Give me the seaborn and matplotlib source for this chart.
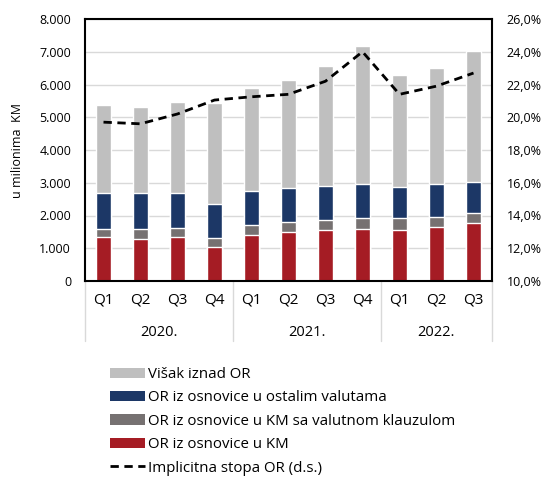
import numpy as np
import pandas as pd
import matplotlib
matplotlib.use("Agg")
import matplotlib.pyplot as plt
import seaborn as sns
from matplotlib.patches import Patch
from matplotlib.lines import Line2D
from matplotlib.ticker import FuncFormatter

quarters = ["Q1", "Q2", "Q3", "Q4", "Q1", "Q2", "Q3", "Q4", "Q1", "Q2", "Q3"]
years = ["2020.", "2021.", "2022."]
year_counts = [4, 4, 3]

# u milionima KM
or_km = [1335, 1290, 1330, 1050, 1400, 1490, 1570, 1600, 1570, 1640, 1760]
or_km_klauzula = [265, 310, 300, 270, 310, 300, 300, 310, 340, 310, 320]
or_ostale = [1080, 1080, 1050, 1030, 1040, 1040, 1040, 1050, 960, 1010, 950]
visak = [2700, 2620, 2790, 3080, 3150, 3310, 3660, 4220, 3420, 3530, 3980]

# implicitna stopa OR, %
stopa = [19.7, 19.6, 20.2, 21.05, 21.25, 21.4, 22.2, 24.0, 21.4, 21.9, 22.7]

labels = ["Višak iznad OR", "OR iz osnovice u ostalim valutama",
          "OR iz osnovice u KM sa valutnom klauzulom", "OR iz osnovice u KM"]
colors = ["#BFBFBF", "#1C3766", "#767171", "#A51C24"]

sns.set_style("white")
plt.rcParams['font.family'] = ['Open Sans', 'DejaVu Sans']
plt.rcParams['text.color'] = 'black'
plt.rcParams['ytick.color'] = 'black'
plt.rcParams['axes.labelcolor'] = 'black'

ids = [f"{i:02d}" for i in range(len(quarters))]
df = pd.DataFrame({"id": ids, "red": or_km, "gray": or_km_klauzula,
                   "blue": or_ostale, "excess": visak})
df["c1"] = df["red"]
df["c2"] = df["c1"] + df["gray"]
df["c3"] = df["c2"] + df["blue"]
df["c4"] = df["c3"] + df["excess"]

fig = plt.figure(figsize=(5.45, 4.79), dpi=100)
ax = fig.add_axes([85 / 545, 1 - 281 / 479, 407 / 545, 262 / 479])

for col, c in zip(["c4", "c3", "c2", "c1"], colors):
    sns.barplot(data=df, x="id", y=col, order=ids, color=c, width=0.43,
                saturation=1, ax=ax, zorder=2)

ax.set_ylim(0, 8000)
ax.set_yticks(np.arange(0, 8001, 1000))
ax.yaxis.set_major_formatter(FuncFormatter(lambda v, p: f"{int(v):,}".replace(",", ".")))
ax.grid(axis="y", color="#D9D9D9", lw=1, zorder=0)
ax.set_axisbelow(True)
ax.set_xlabel("")
ax.set_ylabel("u milionima  KM", fontsize=9, labelpad=11)
ax.set_xticks([])
ax.tick_params(axis="y", labelsize=9, length=0, pad=10)
for s in ax.spines.values():
    s.set_color("black")
    s.set_linewidth(1.5)

ax2 = ax.twinx()
sns.lineplot(x=np.arange(len(stopa)), y=stopa, ax=ax2, color="black",
             lw=2, dashes=False, zorder=3)
ax2.lines[0].set_dashes((3, 2))
ax2.set_ylim(10, 26)
ax2.set_yticks(np.arange(10, 26.1, 2))
ax2.yaxis.set_major_formatter(FuncFormatter(lambda v, p: f"{v:.1f}%".replace(".", ",")))
ax2.tick_params(axis="y", labelsize=9, length=0, pad=10.5)
for s in ax2.spines.values():
    s.set_visible(False)
ax.set_xlim(-0.5, len(quarters) - 0.5)
ax2.set_xlim(-0.5, len(quarters) - 0.5)

# category axis
tr = ax.get_xaxis_transform()
for i, q in enumerate(quarters):
    ax.text(i, -0.072, q, transform=tr, ha="center", va="center", fontsize=11)
edges = np.concatenate([[0], np.cumsum(year_counts)]) - 0.5
for e in edges:
    ax.plot([e, e], [0, -0.23], transform=tr, color="#D9D9D9", lw=1, clip_on=False)
for k, y in enumerate(years):
    mid = (edges[k] + edges[k + 1]) / 2
    ax.text(mid, -0.198, y, transform=tr, ha="center", va="center", fontsize=10.5)

handles = [Patch(facecolor=c, edgecolor="none") for c in colors]
handles.append(Line2D([0], [0], color="black", lw=2, dashes=(3, 2)))
fig.legend(handles, labels + ["Implicitna stopa OR (d.s.)"], loc="upper left",
           bbox_to_anchor=(104 / 545, 1 - 361 / 479), frameon=False, fontsize=10.8,
           handlelength=2.3, handleheight=0.7, handletextpad=0.2, labelspacing=0.56,
           borderaxespad=0)

fig.savefig("out.png", dpi=100)
